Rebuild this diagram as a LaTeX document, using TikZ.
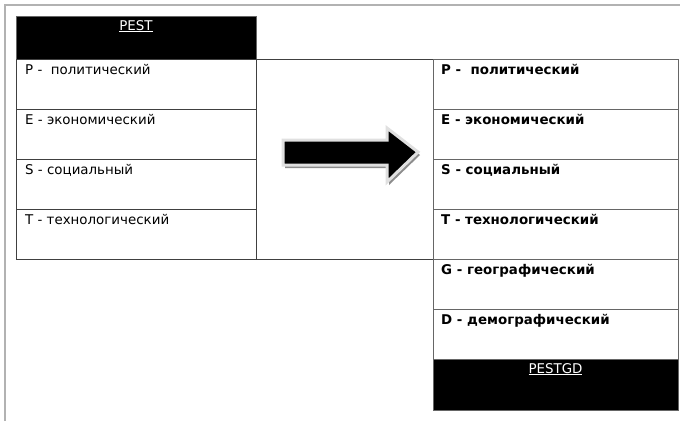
\documentclass[tikz,border=0pt]{standalone}
\usepackage{fontspec}
\setmainfont{DejaVu Sans}
\usetikzlibrary{positioning}
\tikzset{
  lcell/.style={draw=black!75, line width=1pt, minimum width=240pt, minimum height=50pt, inner sep=0pt, outer sep=0pt, anchor=north west},
  rcell/.style={draw=black!60, line width=1pt, minimum width=245pt, minimum height=50pt, inner sep=0pt, outer sep=0pt, anchor=north west},
  hdr/.style={fill=black, draw=black!60, line width=1pt, minimum height=43pt, inner sep=0pt, outer sep=0pt, anchor=north west},
  ltext/.style={anchor=base west, inner sep=0pt, font=\fontsize{13.4}{15}\selectfont},
  rtext/.style={anchor=base west, inner sep=0pt, font=\fontsize{13.4}{15}\selectfont\bfseries},
  htext/.style={anchor=base, inner sep=0pt, text=white, font=\fontsize{13.4}{15}\selectfont},
  frameline/.style={draw=black!30, line width=2pt}
}
\begin{document}
\begin{tikzpicture}[x=1pt,y=-1pt]
  \useasboundingbox (0,0) rectangle (680,421);
  \draw[frameline] (5,421) -- (5,5) -- (680,5);
  % left table
  \node[hdr, minimum width=240pt] (lh) at (16,16) {};
  \node[lcell] (lp) at (16,59) {};
  \node[lcell, below=0pt of lp.south west, anchor=north west] (le) {};
  \node[lcell, below=0pt of le.south west, anchor=north west] (ls) {};
  \node[lcell, below=0pt of ls.south west, anchor=north west] (lt) {};
  % middle
  \node[draw=black!75, line width=1pt, minimum width=177pt, minimum height=200pt, inner sep=0pt, outer sep=0pt, anchor=north west] (mid) at (lp.north east) {};
  % right table
  \node[rcell] (rp) at (mid.north east) {};
  \node[rcell, below=0pt of rp.south west, anchor=north west] (re) {};
  \node[rcell, below=0pt of re.south west, anchor=north west] (rs) {};
  \node[rcell, below=0pt of rs.south west, anchor=north west] (rt) {};
  \node[rcell, below=0pt of rt.south west, anchor=north west] (rg) {};
  \node[rcell, below=0pt of rg.south west, anchor=north west] (rd) {};
  \node[hdr, minimum width=245pt, minimum height=51pt, below=0pt of rd.south west, anchor=north west] (rh) {};
  % texts
  \node[htext] (lht) at ([yshift=-14pt]lh.north) {\underline{PEST}};
  \node[ltext] (lpt) at ([xshift=9pt,yshift=-15pt]lp.north west) {P -\ \ политический};
  \node[ltext] (let) at ([xshift=9pt,yshift=-15pt]le.north west) {E - экономический};
  \node[ltext] (lst) at ([xshift=9pt,yshift=-15pt]ls.north west) {S - социальный};
  \node[ltext] (ltt) at ([xshift=9pt,yshift=-15pt]lt.north west) {T - технологический};
  \node[rtext] (rpt) at ([xshift=8pt,yshift=-15pt]rp.north west) {P -\ \ политический};
  \node[rtext] (ret) at ([xshift=8pt,yshift=-15pt]re.north west) {E - экономический};
  \node[rtext] (rst) at ([xshift=8pt,yshift=-15pt]rs.north west) {S - социальный};
  \node[rtext] (rtt) at ([xshift=8pt,yshift=-15pt]rt.north west) {T - технологический};
  \node[rtext] (rgt) at ([xshift=8pt,yshift=-15pt]rg.north west) {G - географический};
  \node[rtext] (rdt) at ([xshift=8pt,yshift=-15pt]rd.north west) {D - демографический};
  \node[htext] (rht) at ([yshift=-14pt]rh.north) {\underline{PESTGD}};
  % arrow
  \fill[black!45, shift={(2pt,-3pt)}] (283,140) -- (387,140) -- (387,128) -- (418,152) -- (387,182) -- (387,165) -- (283,165) -- cycle;
  \filldraw[fill=black, draw=black!12, line width=3pt, line join=miter] (283,140) -- (387,140) -- (387,128) -- (418,152) -- (387,182) -- (387,165) -- (283,165) -- cycle;
\end{tikzpicture}
\end{document}
